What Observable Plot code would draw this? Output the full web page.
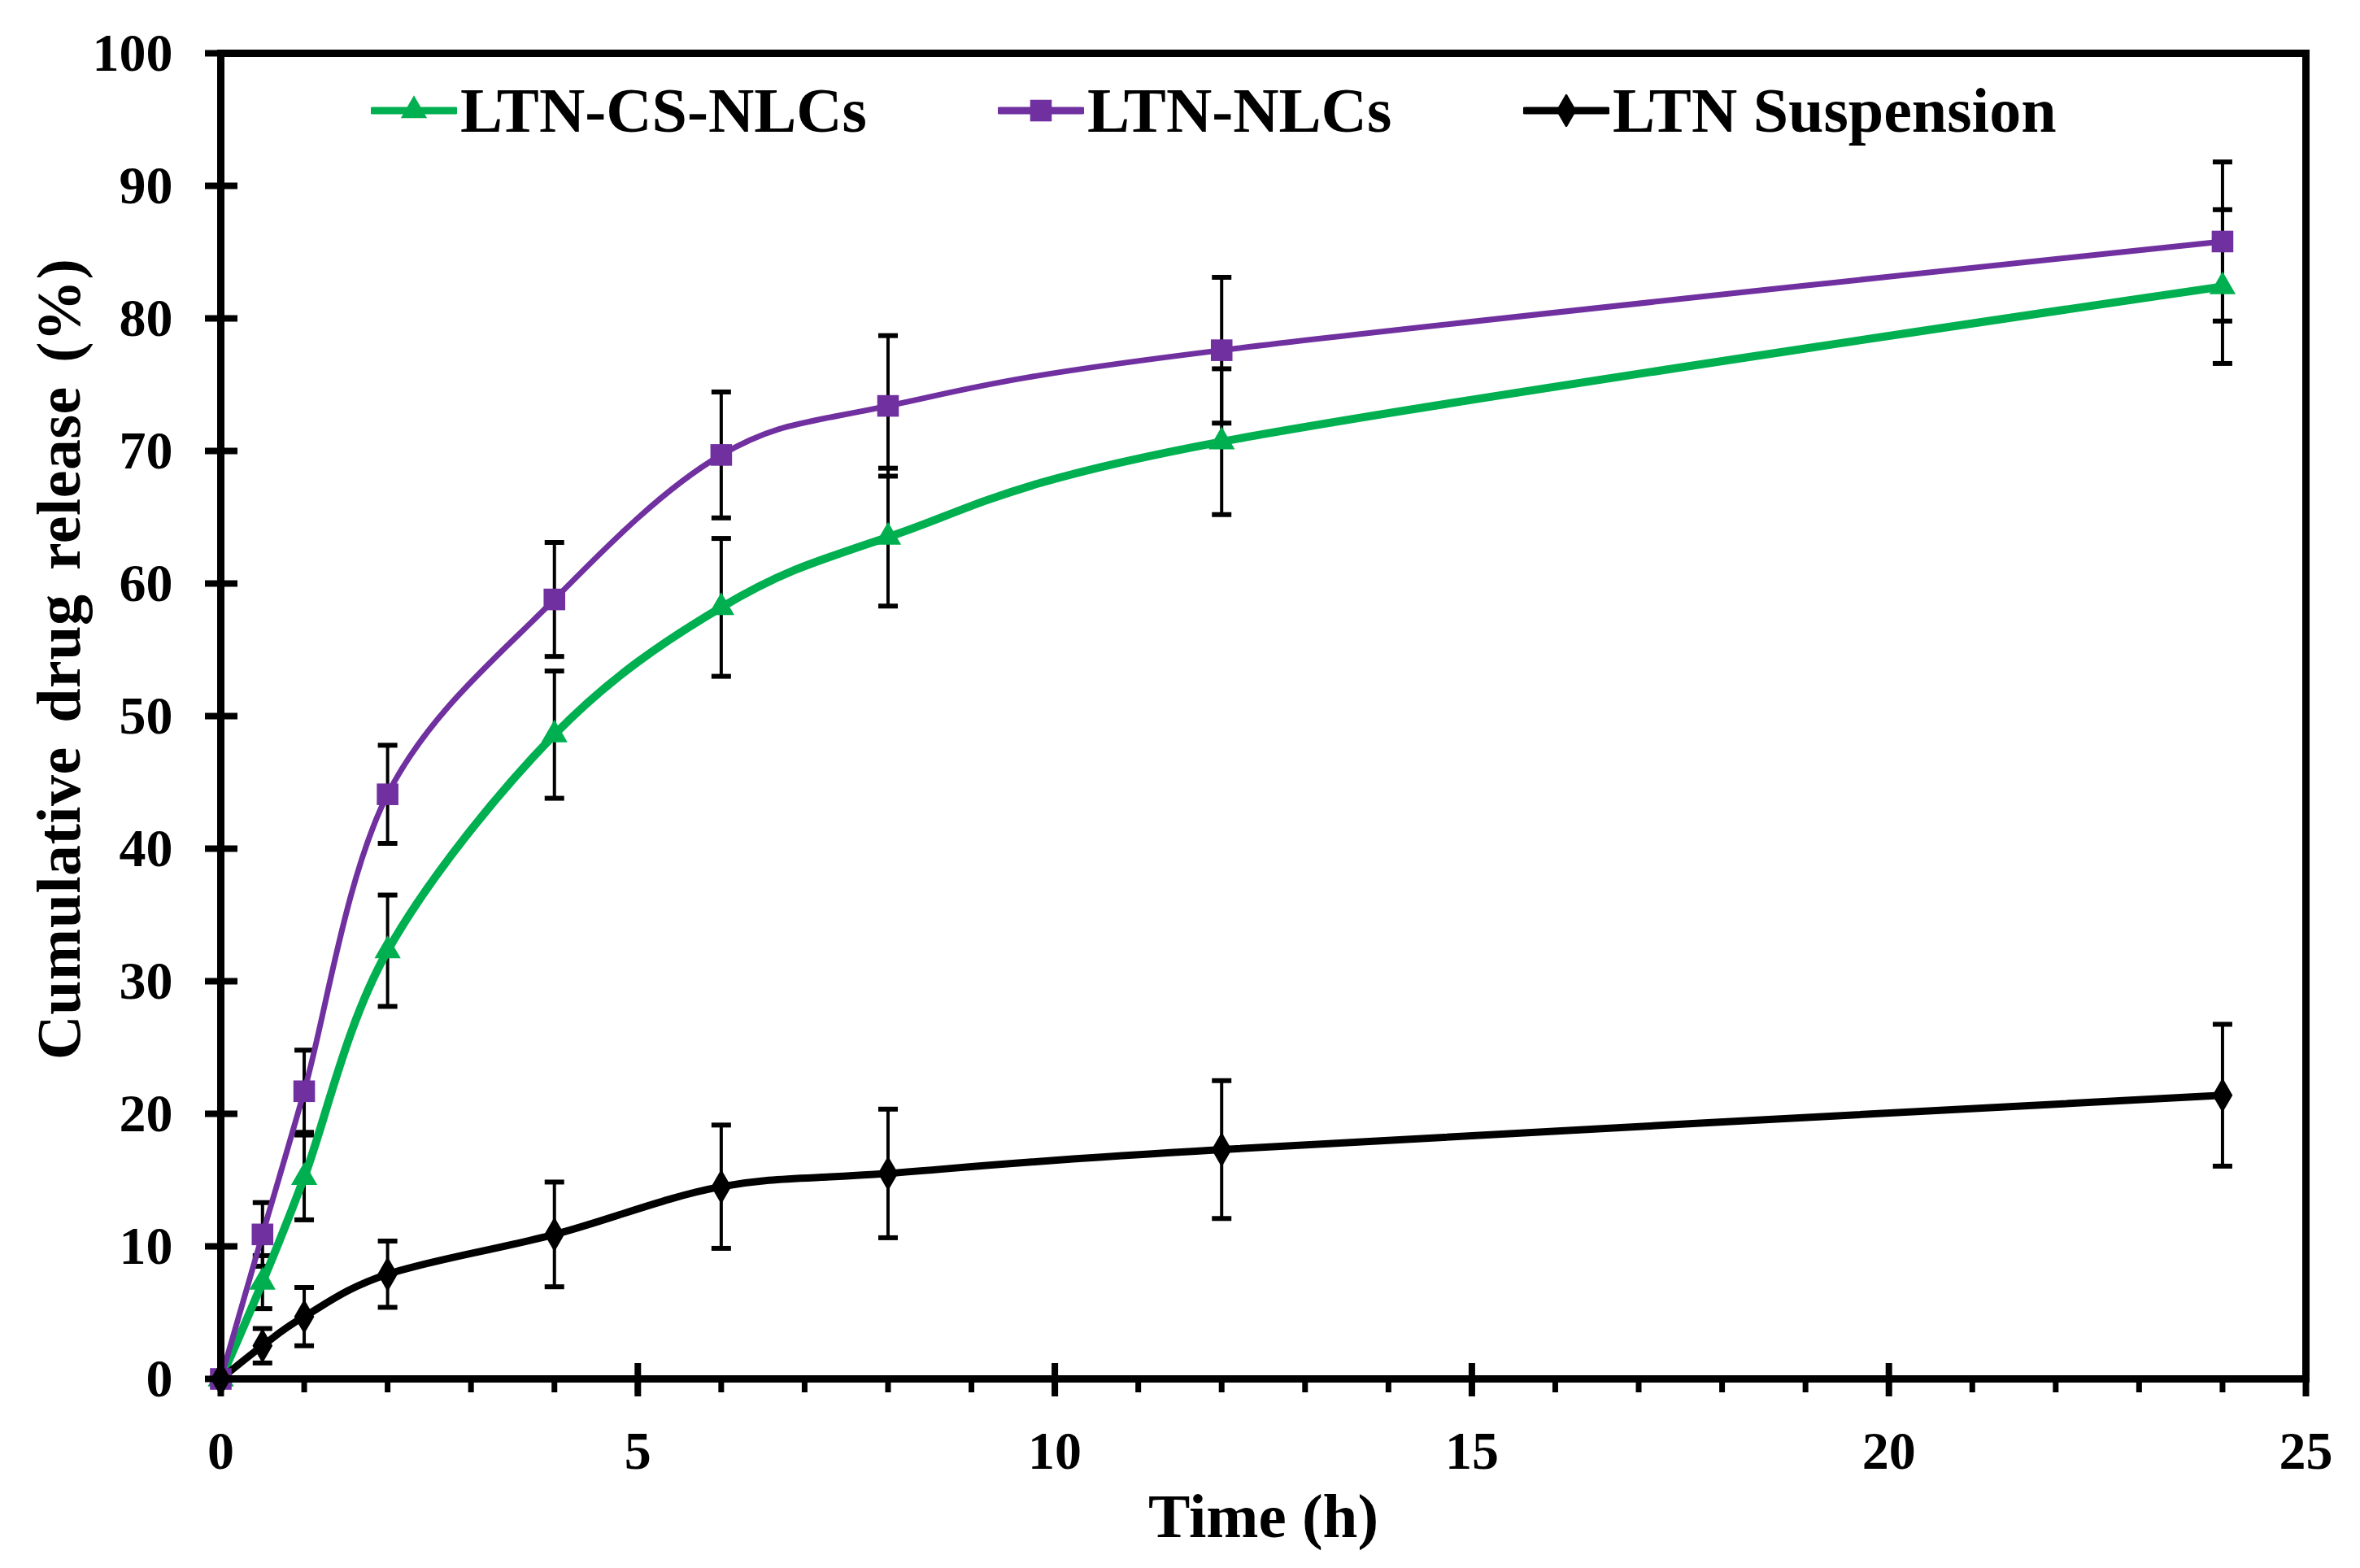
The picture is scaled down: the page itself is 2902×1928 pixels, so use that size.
<!DOCTYPE html>
<html><head><meta charset="utf-8">
<script src="https://cdn.jsdelivr.net/npm/d3@7"></script>
<script src="https://cdn.jsdelivr.net/npm/@observablehq/plot@0.6"></script>
<style>
html,body{margin:0;padding:0;background:#fff;}
#wrap{position:relative;width:2902px;height:1928px;}
.lg{position:absolute;height:78px;display:flex;align-items:center;font-family:"Liberation Serif","Times New Roman",serif;font-weight:bold;font-size:78px;color:#000;white-space:nowrap;line-height:1;}
.lg svg{margin-right:4px;}
.ytitle{word-spacing:10px;letter-spacing:0.5px;}
</style></head><body><div id="wrap"></div>
<script>
// ---- data ----
const time = [0, 0.5, 1, 2, 4, 6, 8, 12, 24];
const seriesNames = ["LTN-CS-NLCs", "LTN-NLCs", "LTN Suspension"];
const csNlcs = [0, 7.3, 15.2, 32.3, 48.6, 58.2, 63.5, 70.7, 82.4];
const csNlcsErr = [0, 2.0, 3.2, 4.2, 4.8, 5.2, 5.2, 5.5, 5.8];
const nlcs = [0, 10.9, 21.7, 44.1, 58.8, 69.7, 73.4, 77.6, 85.8];
const nlcsErr = [0, 2.4, 3.1, 3.7, 4.3, 4.75, 5.3, 5.5, 6.0];
const suspension = [0, 2.5, 4.7, 7.9, 10.9, 14.5, 15.5, 17.3, 21.4];
const suspensionErr = [0, 1.3, 2.2, 2.5, 3.95, 4.65, 4.85, 5.2, 5.35];
const yTicks = [0, 10, 20, 30, 40, 50, 60, 70, 80, 90, 100];
const xTicks = [0, 5, 10, 15, 20, 25];
const xMinorTicks = d3.range(0, 26);
const yLabel = "Cumulative drug release (%)";
const xLabel = "Time (h)";

// ---- styles ----
const colors = ["#00B050", "#7030A0", "#000000"];
const symbols = ["triangle", "square", "diamond"];
const radii = [12, 15, 13];
const widths = [10, 7, 9];
const FONT = '"Liberation Serif","Times New Roman",serif';

const values = [csNlcs, nlcs, suspension];
const errs = [csNlcsErr, nlcsErr, suspensionErr];
const rows = [];
seriesNames.forEach((s, i) => time.forEach((t, j) => rows.push({series: s, idx: i, t, v: values[i][j], e: errs[i][j]})));
const errRows = rows.filter(d => d.e > 0);

const W = 2902, H = 1928;
const mL = 271, mR = 67, mT = 65, mB = 233;
const pw = W - mL - mR, ph = H - mT - mB;

const capSymbol = {draw(ctx) { ctx.moveTo(-12, 0); ctx.lineTo(12, 0); }};

const marks = [];
// error bars
marks.push(Plot.ruleX(errRows, {x: "t", y1: d => d.v - d.e, y2: d => d.v + d.e, stroke: "black", strokeWidth: 4}));
marks.push(Plot.dot(errRows, {x: "t", y: d => d.v + d.e, symbol: capSymbol, stroke: "black", fill: "none", strokeWidth: 6}));
marks.push(Plot.dot(errRows, {x: "t", y: d => d.v - d.e, symbol: capSymbol, stroke: "black", fill: "none", strokeWidth: 6}));
// lines and markers
seriesNames.forEach((s, i) => {
  const data = rows.filter(d => d.idx === i);
  marks.push(Plot.line(data, {x: "t", y: "v", stroke: colors[i], strokeWidth: widths[i], curve: "cardinal"}));
});
seriesNames.forEach((s, i) => {
  const data = rows.filter(d => d.idx === i);
  marks.push(Plot.dot(data, {x: "t", y: "v", symbol: symbols[i], r: radii[i], fill: colors[i], stroke: "none"}));
});
// frame & ticks
marks.push(Plot.frame({stroke: "black", strokeWidth: 9}));
marks.push(Plot.tickY(yTicks, {y: d => d, stroke: "black", strokeWidth: 8, insetLeft: -19, insetRight: pw - 21}));
marks.push(Plot.tickX(xTicks, {x: d => d, stroke: "black", strokeWidth: 8, insetTop: ph - 19, insetBottom: -22}));
marks.push(Plot.tickX(xMinorTicks, {x: d => d, stroke: "black", strokeWidth: 7, insetTop: ph, insetBottom: -17}));
// axes labels
marks.push(Plot.axisY({ticks: yTicks, tickSize: 0, tickPadding: 59, fontSize: 66, label: null}));
marks.push(Plot.axisX({ticks: xTicks, tickSize: 0, tickPadding: 64, fontSize: 66, label: null}));
marks.push(Plot.text([xLabel], {text: d => d, frameAnchor: "bottom", textAnchor: "middle", lineAnchor: "middle", dy: 170, fontSize: 77, fontWeight: "bold", fill: "black"}));
marks.push(Plot.text([yLabel], {text: d => d, frameAnchor: "left", textAnchor: "middle", lineAnchor: "middle", rotate: -90, dx: -198, dy: -70, fontSize: 76, fontWeight: "bold", fill: "black", className: "ytitle"}));

const chart = Plot.plot({
  width: W, height: H,
  marginLeft: mL, marginRight: mR, marginTop: mT, marginBottom: mB,
  x: {domain: [0, 25]},
  y: {domain: [0, 100]},
  style: {fontFamily: FONT, fontWeight: "bold", color: "black", background: "white"},
  marks
});
const wrap = document.getElementById("wrap");
wrap.appendChild(chart);

// legend overlay
const legendLeft = [456, 1227, 1873];
seriesNames.forEach((s, i) => {
  const div = document.createElement("div");
  div.className = "lg";
  div.style.left = legendLeft[i] + "px";
  div.style.top = "97px";
  const sym = d3.symbol(d3["symbol" + symbols[i][0].toUpperCase() + symbols[i].slice(1)], Math.PI * radii[i] * radii[i])();
  div.innerHTML = `<svg width="106" height="40" viewBox="0 0 106 40"><line x1="2" y1="20" x2="104" y2="20" stroke="${colors[i]}" stroke-width="9" stroke-linecap="round"/><path d="${sym}" transform="translate(53,20)" fill="${colors[i]}"/></svg><span>${s}</span>`;
  wrap.appendChild(div);
});
</script></body></html>
